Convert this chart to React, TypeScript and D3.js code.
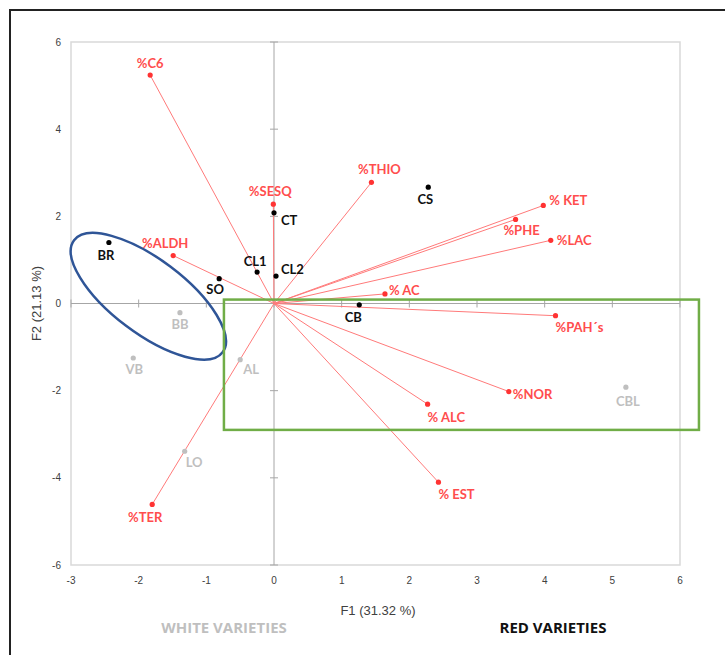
import React, { useEffect, useRef } from 'react';
import * as d3 from 'd3';

// variable loadings (F1, F2)
const varNames = ['%C6', '%SESQ', '%ALDH', '%THIO', '% KET', '%PHE', '%LAC', '% AC', '%PAH´s', '%NOR', '% ALC', '% EST', '%TER'];
const varF1 = [-1.83, -0.01, -1.49, 1.44, 3.98, 3.57, 4.09, 1.64, 4.16, 3.47, 2.27, 2.43, -1.80];
const varF2 = [5.24, 2.28, 1.10, 2.78, 2.25, 1.93, 1.45, 0.22, -0.28, -2.02, -2.31, -4.10, -4.61];

// red variety observations
const redNames = ['BR', 'CT', 'CL1', 'CL2', 'SO', 'CS', 'CB'];
const redF1 = [-2.44, 0.0, -0.25, 0.03, -0.81, 2.28, 1.26];
const redF2 = [1.40, 2.08, 0.72, 0.63, 0.57, 2.67, -0.03];

// white variety observations
const whiteNames = ['BB', 'VB', 'AL', 'LO', 'CBL'];
const whiteF1 = [-1.39, -2.08, -0.50, -1.32, 5.20];
const whiteF2 = [-0.21, -1.25, -1.29, -3.39, -1.92];

const xTicks = [-3, -2, -1, 0, 1, 2, 3, 4, 5, 6];
const yTicks = [-6, -4, -2, 0, 2, 4, 6];

// label placement [dx, dy, anchor]
const labelPos: Record<string, [number, number, string]> = {
  '%C6': [0, -7, 'middle'],
  '%SESQ': [-3, -8, 'middle'],
  '%ALDH': [-8, -8, 'middle'],
  '%THIO': [8, -8, 'middle'],
  '% KET': [6, 0, 'start'],
  '%PHE': [6, 16, 'middle'],
  '%LAC': [6, 4.5, 'start'],
  '% AC': [4, 1.5, 'start'],
  '%PAH´s': [0, 16.5, 'start'],
  '%NOR': [4, 7, 'start'],
  '% ALC': [0, 18, 'start'],
  '% EST': [0, 16.5, 'start'],
  '%TER': [-7, 17.5, 'middle'],
  BR: [-3, 17.5, 'middle'],
  CT: [7, 12.5, 'start'],
  CL1: [-2, -6, 'middle'],
  CL2: [5, -2, 'start'],
  SO: [-4, 15, 'middle'],
  CS: [-3, 16.5, 'middle'],
  CB: [-6, 17, 'middle'],
  BB: [0, 16.5, 'middle'],
  VB: [1, 16, 'middle'],
  AL: [3, 14.5, 'start'],
  LO: [1, 16, 'start'],
  CBL: [2, 19, 'middle'],
};

const LABEL_FONT = 'Lato, "Open Sans", sans-serif';
const AXIS_FONT = '"Liberation Sans Narrow", "Liberation Sans", sans-serif';

export default function App() {
  const ref = useRef<SVGSVGElement>(null);

  useEffect(() => {
    const svg = d3.select(ref.current);
    svg.selectAll('*').remove();

    const x = d3.scaleLinear().domain([-3, 6]).range([71, 680]);
    const y = d3.scaleLinear().domain([-6, 6]).range([565, 42]);

    // outer frame
    svg.append('rect')
      .attr('x', 10).attr('y', 10).attr('width', 740).attr('height', 680)
      .attr('fill', 'none').attr('stroke', '#222').attr('stroke-width', 2);

    // plot frame
    svg.append('rect')
      .attr('x', x(-3)).attr('y', y(6))
      .attr('width', x(6) - x(-3)).attr('height', y(-6) - y(6))
      .attr('fill', 'none').attr('stroke', '#d9d9d9').attr('stroke-width', 1.5);

    // axes through origin
    const g = svg.append('g');
    g.append('line')
      .attr('x1', x(-3)).attr('x2', x(6)).attr('y1', y(0)).attr('y2', y(0))
      .attr('stroke', '#a6a6a6');
    g.append('line')
      .attr('x1', x(0)).attr('x2', x(0)).attr('y1', y(6)).attr('y2', y(-6))
      .attr('stroke', '#a6a6a6');
    g.selectAll('.yt').data(yTicks).enter().append('line')
      .attr('x1', x(0) - 4).attr('x2', x(0) + 4)
      .attr('y1', d => y(d)).attr('y2', d => y(d))
      .attr('stroke', '#a6a6a6');
    g.selectAll('.xt').data(xTicks).enter().append('line')
      .attr('y1', y(0) - 4).attr('y2', y(0) + 4)
      .attr('x1', d => x(d)).attr('x2', d => x(d))
      .attr('stroke', '#a6a6a6');

    // tick labels
    svg.selectAll('.ytl').data(yTicks).enter().append('text')
      .attr('x', x(-3) - 10).attr('y', d => y(d) + 3.5)
      .attr('text-anchor', 'end')
      .attr('font-family', AXIS_FONT)
      .attr('font-size', 10).attr('fill', '#404040')
      .text(d => d);
    svg.selectAll('.xtl').data(xTicks).enter().append('text')
      .attr('x', d => x(d)).attr('y', y(-6) + 19)
      .attr('text-anchor', 'middle')
      .attr('font-family', AXIS_FONT)
      .attr('font-size', 10).attr('fill', '#404040')
      .text(d => d);

    // axis titles
    svg.append('text')
      .attr('x', 378).attr('y', 615)
      .attr('text-anchor', 'middle')
      .attr('font-family', AXIS_FONT)
      .attr('font-size', 13).attr('fill', '#404040')
      .text('F1 (31.32 %)');
    svg.append('text')
      .attr('transform', `translate(41, ${y(0)}) rotate(-90)`)
      .attr('text-anchor', 'middle')
      .attr('font-family', AXIS_FONT)
      .attr('font-size', 13).attr('fill', '#404040')
      .text('F2 (21.13 %)');

    // vectors
    const vars = varNames.map((n, i) => ({ name: n, f1: varF1[i], f2: varF2[i] }));
    svg.append('g').selectAll('line').data(vars).enter().append('line')
      .attr('x1', x(0)).attr('y1', y(0))
      .attr('x2', d => x(d.f1)).attr('y2', d => y(d.f2))
      .attr('stroke', '#ff7a7a').attr('stroke-width', 1);

    const drawPoints = (data: { name: string; f1: number; f2: number }[], dot: string, txt: string) => {
      const gg = svg.append('g');
      gg.selectAll('circle').data(data).enter().append('circle')
        .attr('cx', d => x(d.f1)).attr('cy', d => y(d.f2)).attr('r', 2.6)
        .attr('fill', dot);
      gg.selectAll('text').data(data).enter().append('text')
        .attr('x', d => x(d.f1) + labelPos[d.name][0])
        .attr('y', d => y(d.f2) + labelPos[d.name][1])
        .attr('text-anchor', d => labelPos[d.name][2])
        .attr('font-family', LABEL_FONT).attr('font-weight', 'bold')
        .attr('font-size', 13).attr('fill', txt)
        .text(d => d.name);
    };

    drawPoints(vars, '#ff3333', '#ff4d4d');
    drawPoints(redNames.map((n, i) => ({ name: n, f1: redF1[i], f2: redF2[i] })), '#000', '#111');
    drawPoints(whiteNames.map((n, i) => ({ name: n, f1: whiteF1[i], f2: whiteF2[i] })), '#bfbfbf', '#bfbfbf');

    // annotations
    svg.append('ellipse')
      .attr('cx', 0).attr('cy', 0).attr('rx', 93).attr('ry', 37)
      .attr('transform', `translate(${x(-1.857)}, ${y(0.165)}) rotate(37)`)
      .attr('fill', 'none').attr('stroke', '#2f5597').attr('stroke-width', 2.5);

    svg.append('rect')
      .attr('x', x(-0.74)).attr('y', y(0.09))
      .attr('width', x(6.28) - x(-0.74)).attr('height', y(-2.9) - y(0.09))
      .attr('fill', 'none').attr('stroke', '#70ad47').attr('stroke-width', 2.5);

    // group captions
    svg.append('text')
      .attr('x', 224).attr('y', 633).attr('text-anchor', 'middle')
      .attr('font-family', '"Liberation Sans Narrow", "Open Sans", sans-serif')
      .attr('font-weight', 'bold').attr('font-size', 15).attr('fill', '#bfbfbf')
      .text('WHITE VARIETIES');
    svg.append('text')
      .attr('x', 553).attr('y', 633).attr('text-anchor', 'middle')
      .attr('font-family', '"Liberation Sans Narrow", "Open Sans", sans-serif')
      .attr('font-weight', 'bold').attr('font-size', 15).attr('fill', '#111')
      .text('RED VARIETIES');
  }, []);

  return (
    <svg
      ref={ref}
      width={725}
      height={655}
      style={{ position: 'absolute', left: 0, top: 0, background: '#fff' }}
    />
  );
}
